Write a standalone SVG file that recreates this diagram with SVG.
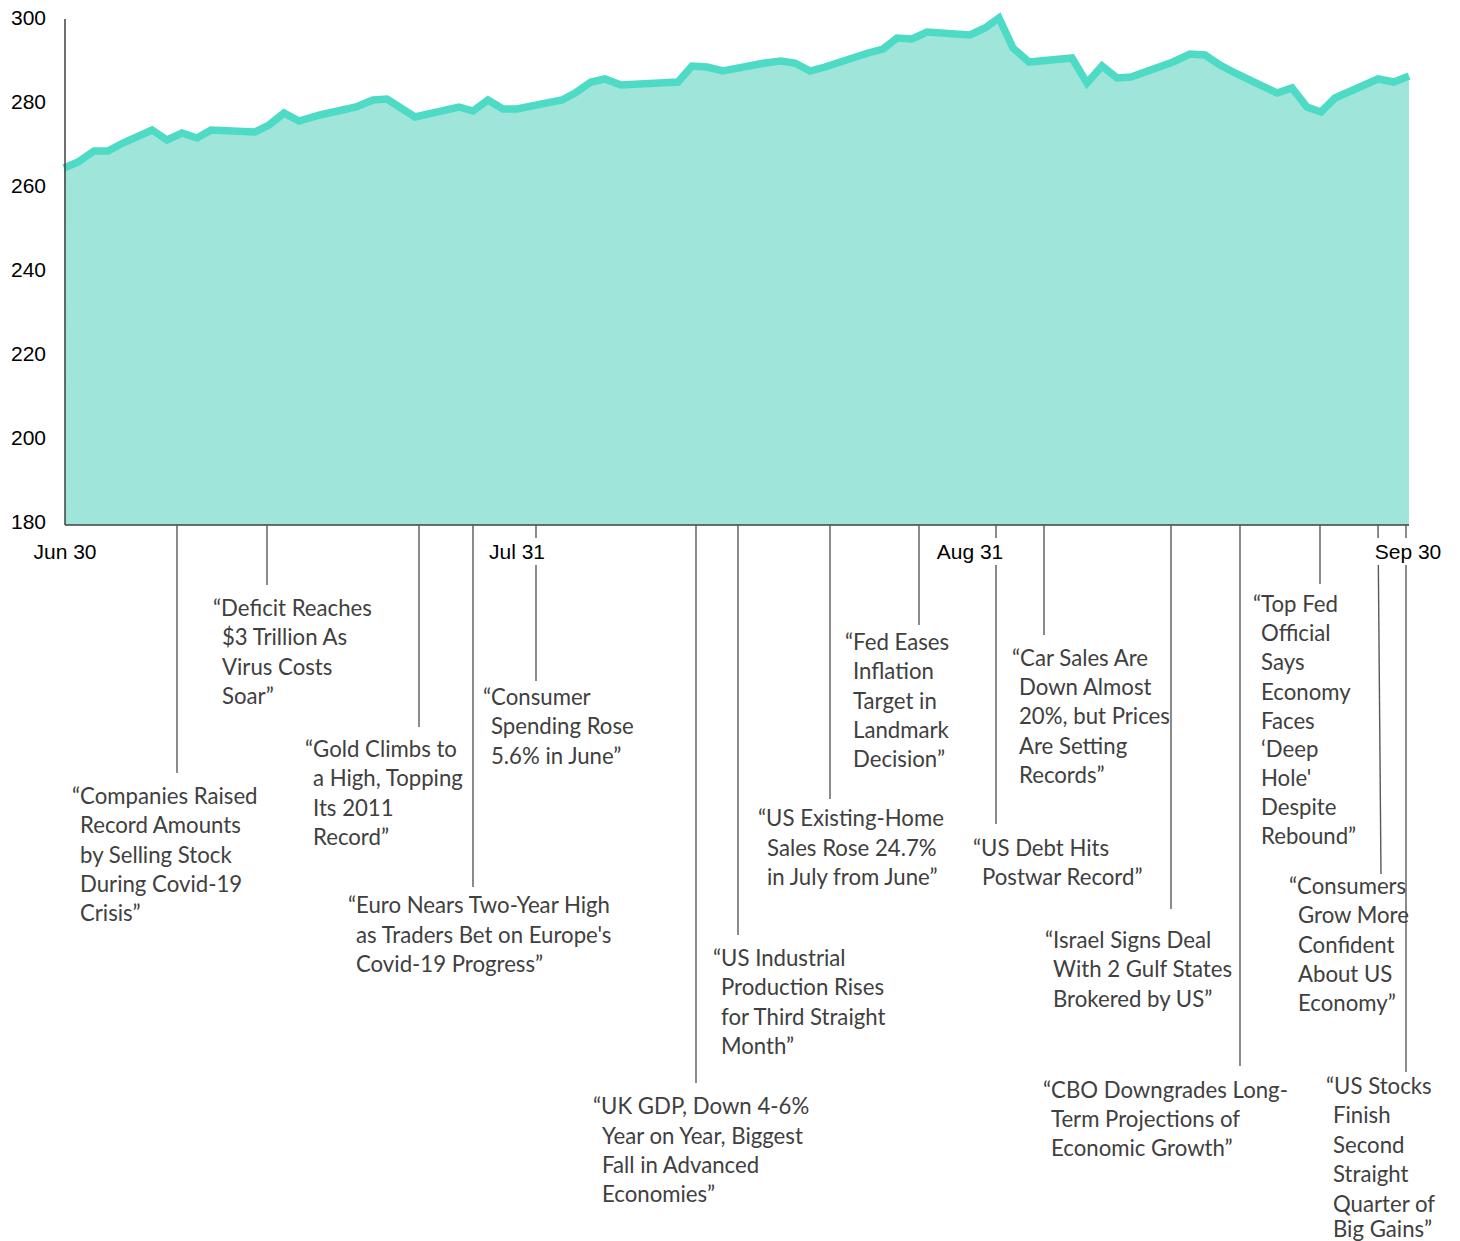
<svg xmlns="http://www.w3.org/2000/svg" width="1460" height="1241" viewBox="0 0 1460 1241">
<style>
.ax{stroke:#404040;stroke-width:1.5;fill:none}
.drop{stroke:#595959;stroke-width:1.4;fill:none}
.tick{font-family:"Liberation Sans",Arial,sans-serif;font-size:21px;fill:#000}
.hl{font-family:Lato,"Open Sans",sans-serif;font-size:22.2px;fill:#404040}
.bg{fill:#fff}
</style>
<rect width="1460" height="1241" fill="#fff"/>
<g id="area">
<polygon fill="#a0e5da" points="65,525 64,168 78,162 94,151 108,151 123,143 152,130 167,140 182,133 197,138 211,130 255,132 269,125 284,113 299,121 320,115 356,107 373,100 387,99 415,117 459,107 473,111 488,100 503,109 517,109 562,100 575,93 591,82 605,79 621,85 678,82 692,66 707,67 723,71 765,63 781,61 795,63 810,71 825,67 868,53 883,49 897,38 912,39 927,32 970,35 985,28 999,18 1013,48 1029,62 1072,58 1087,83 1102,66 1117,78 1131,77 1173,62 1190,54 1205,55 1220,65 1235,73 1277,93 1292,88 1307,107 1321,112 1335,98 1378,79 1394,82 1409,76 1409,525"/>
<polyline fill="none" stroke="#4ddbc5" stroke-width="7.5" stroke-linejoin="miter" points="64,168 78,162 94,151 108,151 123,143 152,130 167,140 182,133 197,138 211,130 255,132 269,125 284,113 299,121 320,115 356,107 373,100 387,99 415,117 459,107 473,111 488,100 503,109 517,109 562,100 575,93 591,82 605,79 621,85 678,82 692,66 707,67 723,71 765,63 781,61 795,63 810,71 825,67 868,53 883,49 897,38 912,39 927,32 970,35 985,28 999,18 1013,48 1029,62 1072,58 1087,83 1102,66 1117,78 1131,77 1173,62 1190,54 1205,55 1220,65 1235,73 1277,93 1292,88 1307,107 1321,112 1335,98 1378,79 1394,82 1409,76"/>
</g>
<g id="axes">
<line class="ax" x1="65" y1="19" x2="65" y2="525"/>
<line class="ax" x1="65" y1="525" x2="1409" y2="525"/>
</g>
<g id="y-labels" class="tick" text-anchor="end">
<text x="46" y="25">300</text>
<text x="46" y="109">280</text>
<text x="46" y="193">260</text>
<text x="46" y="277">240</text>
<text x="46" y="361">220</text>
<text x="46" y="445">200</text>
<text x="46" y="529">180</text>
</g>
<g id="connectors">
<line class="drop" x1="177" y1="525" x2="177" y2="773"/>
<line class="drop" x1="267" y1="525" x2="267" y2="585"/>
<line class="drop" x1="419" y1="525" x2="419" y2="727"/>
<line class="drop" x1="473" y1="525" x2="473" y2="887"/>
<line class="drop" x1="536" y1="525" x2="536" y2="681"/>
<line class="drop" x1="696" y1="525" x2="696" y2="1083"/>
<line class="drop" x1="738" y1="525" x2="738" y2="935"/>
<line class="drop" x1="830" y1="525" x2="830" y2="799"/>
<line class="drop" x1="919" y1="525" x2="919" y2="625"/>
<line class="drop" x1="996" y1="525" x2="996" y2="824"/>
<line class="drop" x1="1044" y1="525" x2="1044" y2="635"/>
<line class="drop" x1="1171" y1="525" x2="1171" y2="909"/>
<line class="drop" x1="1240" y1="525" x2="1240" y2="1066"/>
<line class="drop" x1="1320" y1="525" x2="1320" y2="584"/>
<line class="drop" x1="1378" y1="525" x2="1381" y2="874"/>
<line class="drop" x1="1406" y1="525" x2="1406" y2="1072"/>
</g>
<g id="x-labels" class="tick" text-anchor="middle">
<rect class="bg" x="488" y="538" width="58" height="27"/>
<rect class="bg" x="935" y="538" width="70" height="27"/>
<rect class="bg" x="1373" y="538" width="71" height="27"/>
<text x="65" y="559">Jun 30</text>
<text x="517" y="559">Jul 31</text>
<text x="970" y="559">Aug 31</text>
<text x="1408" y="559">Sep 30</text>
</g>
<g id="n-companies" class="hl"><text x="72" y="804">“Companies Raised</text><text x="80" y="833">Record Amounts</text><text x="80" y="863">by Selling Stock</text><text x="80" y="892">During Covid-19</text><text x="80" y="921">Crisis”</text></g>
<g id="n-deficit" class="hl"><text x="213" y="616">“Deficit Reaches</text><text x="222" y="645">$3 Trillion As</text><text x="222" y="675">Virus Costs</text><text x="222" y="704">Soar”</text></g>
<g id="n-gold" class="hl"><text x="305" y="757">“Gold Climbs to</text><text x="313" y="786">a High, Topping</text><text x="313" y="816">Its 2011</text><text x="313" y="845">Record”</text></g>
<g id="n-euro" class="hl"><text x="348" y="913">“Euro Nears Two-Year High</text><text x="356" y="943">as Traders Bet on Europe's</text><text x="356" y="972">Covid-19 Progress”</text></g>
<g id="n-consumer" class="hl"><text x="483" y="705">“Consumer</text><text x="491" y="734">Spending Rose</text><text x="491" y="764">5.6% in June”</text></g>
<g id="n-ukgdp" class="hl"><text x="593" y="1114">“UK GDP, Down 4-6%</text><text x="602" y="1144">Year on Year, Biggest</text><text x="602" y="1173">Fall in Advanced</text><text x="602" y="1202">Economies”</text></g>
<g id="n-industrial" class="hl"><text x="713" y="966">“US Industrial</text><text x="721" y="995">Production Rises</text><text x="721" y="1025">for Third Straight</text><text x="721" y="1054">Month”</text></g>
<g id="n-fed" class="hl"><text x="845" y="650">“Fed Eases</text><text x="853" y="679">Inflation</text><text x="853" y="709">Target in</text><text x="853" y="738">Landmark</text><text x="853" y="767">Decision”</text></g>
<g id="n-home" class="hl"><text x="758" y="826">“US Existing-Home</text><text x="767" y="856">Sales Rose 24.7%</text><text x="767" y="885">in July from June”</text></g>
<g id="n-car" class="hl"><text x="1012" y="666">“Car Sales Are</text><text x="1019" y="695">Down Almost</text><text x="1019" y="724">20%, but Prices</text><text x="1019" y="754">Are Setting</text><text x="1019" y="783">Records”</text></g>
<g id="n-debt" class="hl"><text x="973" y="856">“US Debt Hits</text><text x="982" y="885">Postwar Record”</text></g>
<g id="n-israel" class="hl"><text x="1045" y="948">“Israel Signs Deal</text><text x="1053" y="977">With 2 Gulf States</text><text x="1053" y="1007">Brokered by US”</text></g>
<g id="n-cbo" class="hl"><text x="1043" y="1098">“CBO Downgrades Long-</text><text x="1051" y="1127">Term Projections of</text><text x="1051" y="1156">Economic Growth”</text></g>
<g id="n-topfed" class="hl"><text x="1253" y="612">“Top Fed</text><text x="1261" y="641">Official</text><text x="1261" y="670">Says</text><text x="1261" y="700">Economy</text><text x="1261" y="729">Faces</text><text x="1261" y="757">‘Deep</text><text x="1261" y="786">Hole'</text><text x="1261" y="815">Despite</text><text x="1261" y="844">Rebound”</text></g>
<g id="n-consumers" class="hl"><text x="1289" y="894">“Consumers</text><text x="1298" y="923">Grow More</text><text x="1298" y="953">Confident</text><text x="1298" y="982">About US</text><text x="1298" y="1011">Economy”</text></g>
<g id="n-stocks" class="hl"><text x="1326" y="1094">“US Stocks</text><text x="1333" y="1123">Finish</text><text x="1333" y="1153">Second</text><text x="1333" y="1182">Straight</text><text x="1333" y="1212">Quarter of</text><text x="1333" y="1237">Big Gains”</text></g>
</svg>
